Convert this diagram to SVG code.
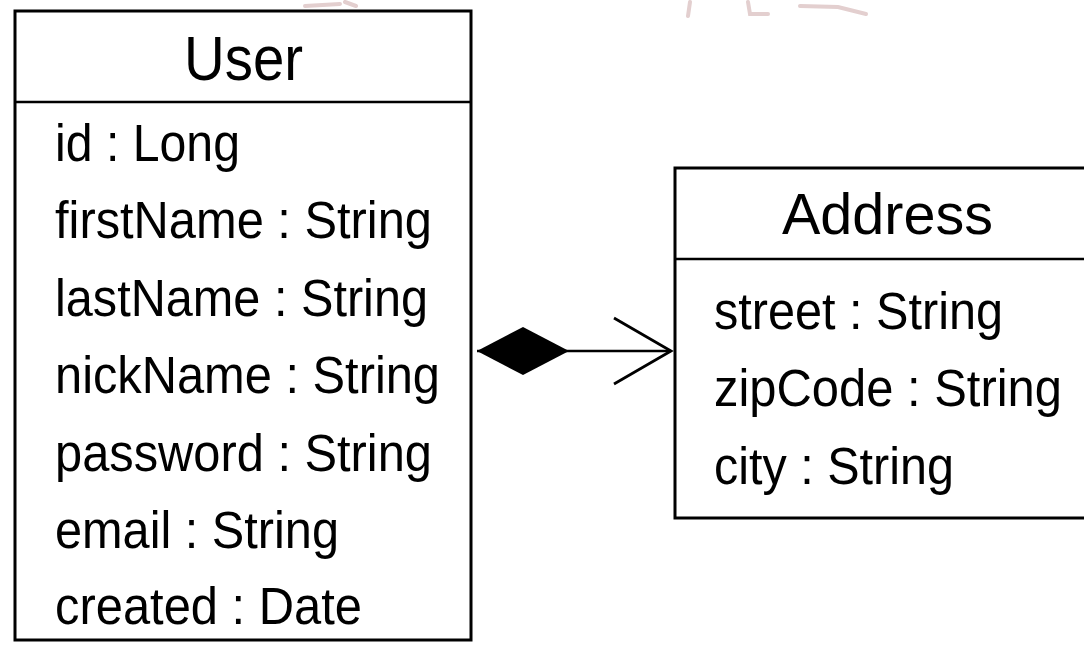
<svg xmlns="http://www.w3.org/2000/svg" width="1084" height="645" viewBox="0 0 1084 645">
  <style>
    .box { fill: #ffffff; stroke: #000000; stroke-width: 3; }
    .divider { stroke: #000000; stroke-width: 2.5; }
    .title { font-family: "Liberation Sans", Arial, Helvetica, sans-serif; fill: #000000; }
    .attr { font-family: "Liberation Sans", Arial, Helvetica, sans-serif; font-size: 51px; fill: #000000; }
    .link { stroke: #000000; stroke-width: 2.5; fill: none; }
    .smudge { stroke: #e3cfcf; stroke-width: 4; fill: none; stroke-linecap: round; }
  </style>
  <defs>
    <!-- filled diamond: composition end at the owning class -->
    <marker id="diamond" viewBox="0 0 92 50" refX="0" refY="25" markerWidth="92" markerHeight="50" markerUnits="userSpaceOnUse" orient="auto">
      <path d="M0,25 L46,1 L92,25 L46,49 Z" fill="#000000"/>
    </marker>
    <!-- open arrowhead: navigability toward the part -->
    <marker id="openArrow" viewBox="-4 -4 66 74" refX="57" refY="33" markerWidth="66" markerHeight="74" markerUnits="userSpaceOnUse" orient="auto" overflow="visible">
      <path d="M0,0 L57,33 L0,66" fill="none" stroke="#000000" stroke-width="2.8"/>
    </marker>
  </defs>

  <rect x="0" y="0" width="1084" height="645" fill="#ffffff"/>

  <!-- faint marks along the top edge -->
  <g id="smudges">
    <path class="smudge" d="M305,6 L340,4 M345,2 L356,6"/>
    <path class="smudge" d="M690,2 L688,16"/>
    <path class="smudge" d="M748,2 L750,14 L768,14"/>
    <path class="smudge" d="M800,6 L838,7 L866,14"/>
  </g>

  <!-- User class -->
  <g id="user">
    <rect class="box" x="15" y="11" width="456" height="629"/>
    <line class="divider" x1="15" y1="102" x2="471" y2="102"/>
    <text class="title" x="184" y="80" font-size="63" textLength="119" lengthAdjust="spacingAndGlyphs">User</text>
    <text class="attr" x="55" y="161" textLength="185" lengthAdjust="spacingAndGlyphs">id : Long</text>
    <text class="attr" x="55" y="238" textLength="377" lengthAdjust="spacingAndGlyphs">firstName : String</text>
    <text class="attr" x="55" y="316" textLength="373" lengthAdjust="spacingAndGlyphs">lastName : String</text>
    <text class="attr" x="55" y="393" textLength="385" lengthAdjust="spacingAndGlyphs">nickName : String</text>
    <text class="attr" x="55" y="471" textLength="377" lengthAdjust="spacingAndGlyphs">password : String</text>
    <text class="attr" x="55" y="548" textLength="284" lengthAdjust="spacingAndGlyphs">email : String</text>
    <text class="attr" x="55" y="624" textLength="307" lengthAdjust="spacingAndGlyphs">created : Date</text>
  </g>

  <!-- Address class (runs past the right edge) -->
  <g id="address">
    <rect class="box" x="675" y="168" width="420" height="350"/>
    <line class="divider" x1="675" y1="259" x2="1095" y2="259"/>
    <text class="title" x="782" y="234" font-size="57" textLength="211" lengthAdjust="spacingAndGlyphs">Address</text>
    <text class="attr" x="714" y="329" textLength="289" lengthAdjust="spacingAndGlyphs">street : String</text>
    <text class="attr" x="714" y="406" textLength="348" lengthAdjust="spacingAndGlyphs">zipCode : String</text>
    <text class="attr" x="714" y="484" textLength="240" lengthAdjust="spacingAndGlyphs">city : String</text>
  </g>

  <!-- composition: User owns Address -->
  <g id="connectors">
    <line class="link" x1="477" y1="351" x2="671" y2="351" marker-start="url(#diamond)" marker-end="url(#openArrow)"/>
  </g>
</svg>
